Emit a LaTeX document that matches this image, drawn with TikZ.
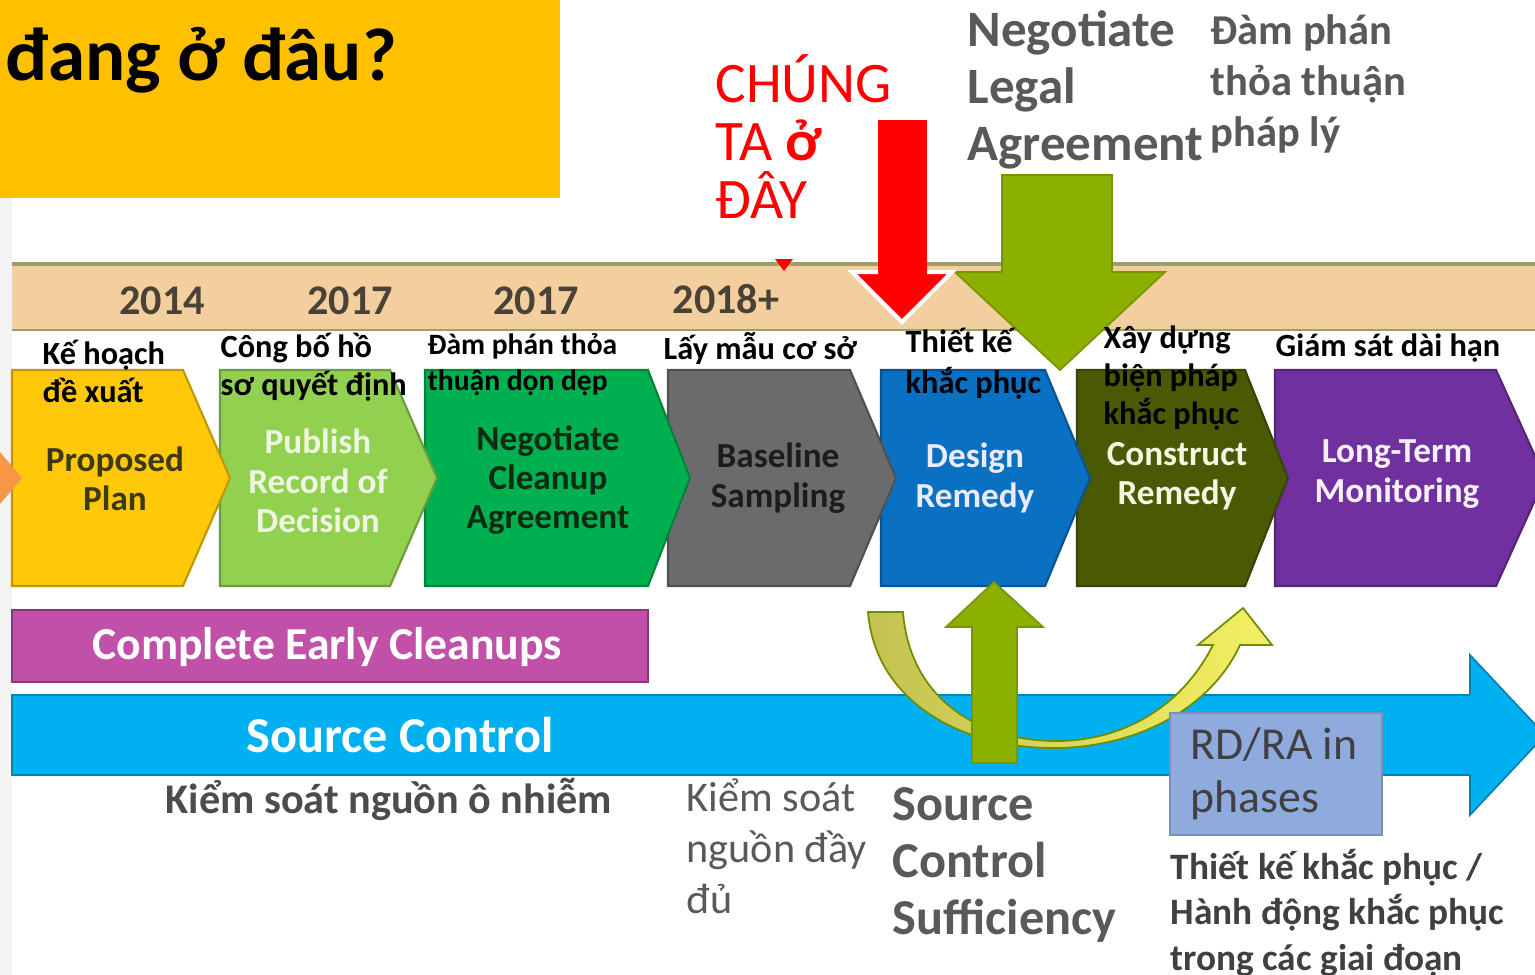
\documentclass[tikz,border=0pt]{standalone}
\usepackage{fontspec}
\setmainfont{Carlito}

\definecolor{hdrorange}{HTML}{FFC000}
\definecolor{leftstrip}{HTML}{F3F3F3}
\definecolor{bandtan}{HTML}{F3CE9E}
\definecolor{bandline}{HTML}{9E9E66}
\definecolor{yeartxt}{HTML}{4A4236}
\definecolor{chyellow}{HTML}{FFC90A}
\definecolor{chorange}{HTML}{F79646}
\definecolor{chlime}{HTML}{92D050}
\definecolor{chgreen}{HTML}{00B050}
\definecolor{chgray}{HTML}{6B6B6B}
\definecolor{chblue}{HTML}{0A70C2}
\definecolor{cholive}{HTML}{4A5A04}
\definecolor{chpurple}{HTML}{7030A0}
\definecolor{barmagenta}{HTML}{C150A9}
\definecolor{barcyan}{HTML}{00B0F0}
\definecolor{arrowgreen}{HTML}{8CB000}
\definecolor{curveleft}{HTML}{C3C252}
\definecolor{curveright}{HTML}{F4F064}
\definecolor{boxblue}{HTML}{8FAADC}
\definecolor{txtgray}{HTML}{595959}
\definecolor{txtdark}{HTML}{404040}
\definecolor{plantxt}{HTML}{3D3A12}
\definecolor{pubtxt}{HTML}{EEF7E2}
\definecolor{negtxt}{HTML}{0F2A12}
\definecolor{basetxt}{HTML}{1C1C1C}

\begin{document}
\begin{tikzpicture}[x=0.01cm,y=-0.01cm,
    lbl/.style={anchor=base west,inner sep=0pt,align=left,font=\bfseries\fontsize{9.2}{10.8}\selectfont},
    steptxt/.style={inner sep=0pt,align=center,font=\bfseries\fontsize{10}{11.2}\selectfont},
    yr/.style={inner sep=0pt,text=yeartxt,font=\bfseries\fontsize{12}{14}\selectfont},
    side/.style={anchor=base west,inner sep=0pt,align=left}]

    \useasboundingbox (0,0) rectangle (1535,975);
    \fill[white] (0,0) rectangle (1535,975);
    \fill[leftstrip] (0,198) rectangle (12,975);

    % title
    \fill[hdrorange] (0,0) rectangle (560,198);
    \node[anchor=base west,inner sep=0pt,font=\bfseries\fontsize{21.3}{26}\selectfont] (title) at (5,80) {đang ở đâu?};

    % timeline
    \fill[bandtan] (12,264) rectangle (1535,330);
    \draw[bandline,line width=1.2pt] (12,264) -- (1535,264);
    \draw[bandline,line width=0.8pt] (12,330) -- (1535,330);
    \fill[red] (775,259) -- (793,259) -- (784,271) -- cycle;
    \node[yr] (y2014) at (162,301) {2014};
    \node[yr] (y2017a) at (350,301) {2017};
    \node[yr] (y2017b) at (536,301) {2017};
    \node[yr] (y2018) at (726,299) {2018+};

    % chevrons, right to left so each tip lies on the next one
    \foreach \l/\s/\t/\c in {1275/1496/1545/chpurple, 1077/1245/1288/cholive,
        881/1045/1090/chblue, 668/850/896/chgray, 425/648/690/chgreen,
        220/390/437/chlime, 12/183/230/chyellow}
      \draw[fill=\c,draw=\c!75!black,line width=0.6pt] (\l,370) -- (\s,370) -- (\t,478) -- (\s,586) -- (\l,586) -- cycle;
    \fill[chorange] (0,452) -- (22,478) -- (0,504) -- cycle;

    \node[steptxt,text=plantxt] (plan) at (115,479) {Proposed\\Plan};
    \node[steptxt,text=pubtxt] (rod) at (318,481) {Publish\\Record of\\Decision};
    \node[steptxt,text=negtxt] (nca) at (548,480) {Negotiate\\Cleanup\\Agreement};
    \node[steptxt,text=basetxt] (base) at (778,478) {Baseline\\Sampling};
    \node[steptxt,text=white!92!blue] (design) at (975,478) {Design\\Remedy};
    \node[steptxt,text=white!92!olive] (build) at (1177,476) {Construct\\Remedy};
    \node[steptxt,text=white!94!violet] (ltm) at (1397,474) {Long-Term\\Monitoring};

    % bars
    \draw[fill=barmagenta,draw=barmagenta!70!black,line width=0.6pt] (12,610) rectangle (648,682);
    \node[inner sep=0pt,text=white,font=\bfseries\fontsize{13}{14}\selectfont] (early) at (327,647) {Complete Early Cleanups};
    \draw[fill=barcyan,draw=barcyan!75!black,line width=0.5pt] (12,695) -- (1470,695) -- (1470,655) -- (1545,735) -- (1470,815) -- (1470,775) -- (12,775) -- cycle;
    \node[inner sep=0pt,text=white,font=\bfseries\fontsize{14.3}{16}\selectfont] (src) at (400,735) {Source Control};

    % curved arrow and up arrow
    \shade[left color=curveleft,right color=curveright,draw=arrowgreen!80!black,line width=0.5pt]
      (868,612) .. controls (875,700) and (960,750) .. (1060,748)
      .. controls (1150,745) and (1215,700) .. (1240,645) -- (1272,645) -- (1243,608) -- (1198,645) -- (1213,645)
      .. controls (1180,710) and (1120,740) .. (1060,741)
      .. controls (980,742) and (910,700) .. (903,612) -- cycle;
    \draw[fill=arrowgreen,draw=arrowgreen!85!black,line width=0.5pt] (972,763) -- (972,627) -- (946,627) -- (994,582) -- (1043,627) -- (1017,627) -- (1017,763) -- cycle;

    \draw[fill=boxblue,draw=boxblue!85!black,line width=0.6pt] (1170,713) rectangle (1382,835);
    \node[side,text=txtdark,font=\fontsize{13}{14.8}\selectfont] (rdra) at (1190,812) {RD/RA in\\phases};

    % arrows from the top
    \draw[fill=arrowgreen,draw=arrowgreen!85!black,line width=0.5pt] (1002,175) -- (1112,175) -- (1112,272) -- (1165,272) -- (1060,370) -- (955,272) -- (1002,272) -- cycle;
    \fill[red] (878,120) rectangle (927,272);
    \draw[fill=red,draw=white,line width=1.2pt] (927,272) -- (952,272) -- (902,322) -- (852,272) -- (878,272);
    \fill[red] (879,268) rectangle (926,276);

    % labels above the steps (base = last line)
    \node[lbl] (lplan) at (42,402) {Kế hoạch\\đề xuất};
    \node[lbl] (lrod) at (220,395) {Công bố hồ\\sơ quyết định};
    \node[lbl,font=\bfseries\fontsize{8.4}{10.2}\selectfont] (lnca) at (427,390) {Đàm phán thỏa\\thuận dọn dẹp};
    \node[lbl] (lbase) at (663,359) {Lấy mẫu cơ sở};
    \node[lbl,font=\bfseries\fontsize{9.2}{11.6}\selectfont] (ldesign) at (905,393) {Thiết kế\\khắc phục};
    \node[lbl] (lbuild) at (1103,424) {Xây dựng\\biện pháp\\khắc phục};
    \node[lbl] (lltm) at (1275,356) {Giám sát dài hạn};

    % side notes
    \node[side,text=red,font=\fontsize{16.3}{16.4}\selectfont] (here) at (715,218) {CHÚNG\\TA \textbf{ở}\\ĐÂY};
    \node[side,text=txtgray,font=\bfseries\fontsize{14.5}{16.2}\selectfont] (legal) at (967,160) {Negotiate\\Legal\\Agreement};
    \node[side,text=txtgray,font=\bfseries\fontsize{12.1}{14.4}\selectfont] (legalvn) at (1210,146) {Đàm phán\\thỏa thuận\\pháp lý};
    \node[side,text=txtgray!85!black,font=\bfseries\fontsize{12}{14}\selectfont] (srcvn) at (165,813) {Kiểm soát nguồn ô nhiễm};
    \node[side,text=txtgray,font=\fontsize{12}{14.5}\selectfont] (suffvn) at (686,913) {Kiểm soát\\nguồn đầy\\đủ};
    \node[side,text=txtgray,font=\bfseries\fontsize{14.3}{16.2}\selectfont] (suff) at (892,934) {Source\\Control\\Sufficiency};
    \node[side,text=txtdark,font=\bfseries\fontsize{10.6}{12.8}\selectfont] (rdravn) at (1170,970) {Thiết kế khắc phục /\\Hành động khắc phục\\trong các giai đoạn};
\end{tikzpicture}
\end{document}
